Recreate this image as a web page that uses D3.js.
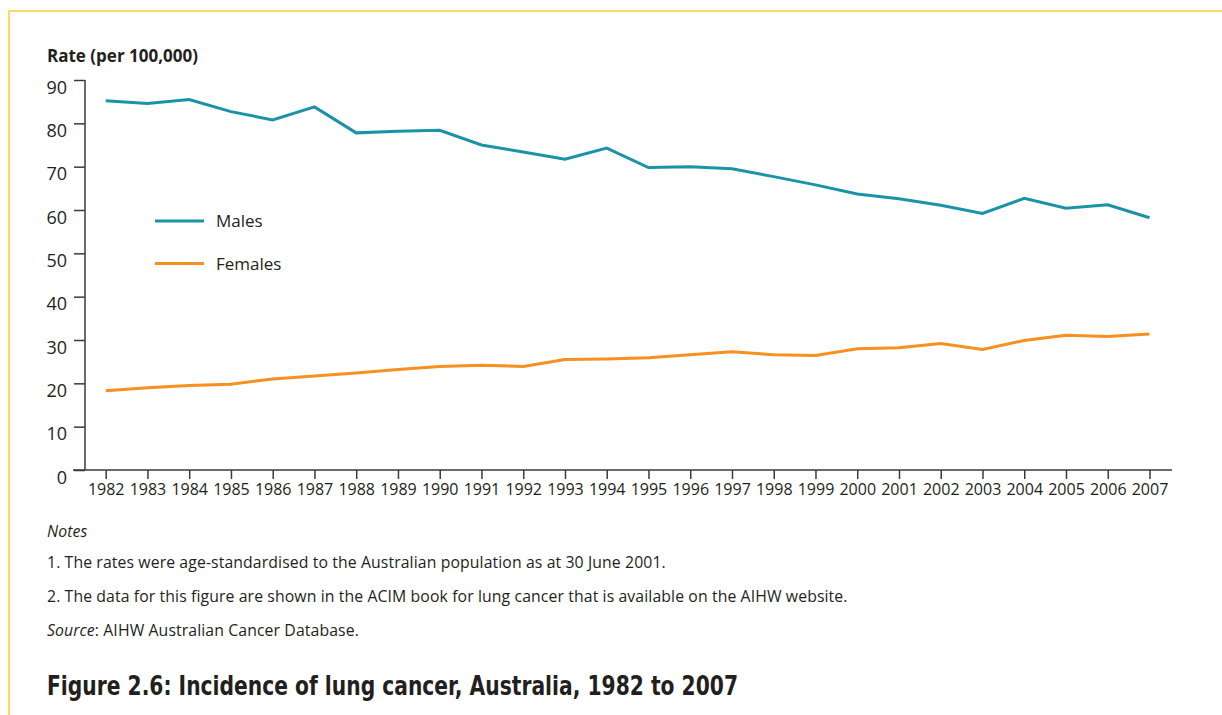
<!DOCTYPE html>
<html>
<head>
<meta charset="utf-8">
<script src="https://cdn.jsdelivr.net/npm/d3@7"></script>
<style>
  html, body { margin: 0; padding: 0; background: #fff; }
  svg { display: block; }
  text { fill: #231f20; }
</style>
</head>
<body>
<svg id="chart" width="1222" height="715"></svg>
<script>
// ---- data ----
const years = [1982,1983,1984,1985,1986,1987,1988,1989,1990,1991,1992,1993,1994,1995,1996,1997,1998,1999,2000,2001,2002,2003,2004,2005,2006,2007];
const males = [85.2,84.6,85.5,82.7,80.8,83.8,77.8,78.2,78.4,75.0,73.4,71.7,74.3,69.8,70.0,69.5,67.7,65.8,63.7,62.6,61.1,59.2,62.7,60.4,61.2,58.2];
const females = [18.3,19.0,19.5,19.8,21.0,21.7,22.4,23.2,23.9,24.2,23.9,25.5,25.6,25.9,26.6,27.3,26.6,26.4,28.0,28.2,29.2,27.8,29.9,31.1,30.8,31.4];
const yTicks = [0,10,20,30,40,50,60,70,80,90];
const seriesNames = ["Males","Females"];
const seriesColors = ["#1a93a8","#f7901e"];
const yTitle = "Rate (per 100,000)";
const notes = [
  {italic: "Notes", rest: ""},
  {italic: "", rest: "1. The rates were age-standardised to the Australian population as at 30 June 2001."},
  {italic: "", rest: "2. The data for this figure are shown in the ACIM book for lung cancer that is available on the AIHW website."},
  {italic: "Source", rest: ": AIHW Australian Cancer Database."}
];
const figTitle = "Figure 2.6: Incidence of lung cancer, Australia, 1982 to 2007";

// ---- layout ----
const svg = d3.select("#chart");
const FONT = "'Open Sans', 'Noto Sans', sans-serif";
const axisColor = "#3a3a3a";

// frame
svg.append("path")
  .attr("d", "M9,715 L9,11 L1222,11")
  .attr("fill", "none")
  .attr("stroke", "#ffd966")
  .attr("stroke-width", 2);

const x = d3.scaleLinear().domain([1982, 2007]).range([105.7, 1149.5]);
const y = d3.scaleLinear().domain([0, 90]).range([470, 80]);
const axisLeftX = 85;

// y axis
const yAxis = d3.axisLeft(y).tickValues(yTicks).tickSize(11).tickPadding(7).tickFormat(d3.format("d"));
const gy = svg.append("g").attr("transform", `translate(${axisLeftX},0)`).call(yAxis);
gy.select(".domain").remove();
gy.selectAll(".tick line").attr("stroke", axisColor).attr("stroke-width", 1.5);
gy.selectAll(".tick text")
  .attr("font-family", FONT).attr("font-size", 18).attr("fill", "#231f20")
  .attr("y", 7.5);
svg.append("line")
  .attr("x1", axisLeftX).attr("x2", axisLeftX)
  .attr("y1", y(90)).attr("y2", y(0))
  .attr("stroke", axisColor).attr("stroke-width", 1.5);

// x axis
const xAxis = d3.axisBottom(x).tickValues(years).tickSize(9).tickPadding(5).tickFormat(d3.format("d"));
const gx = svg.append("g").attr("transform", `translate(0,${y(0)})`).call(xAxis);
gx.select(".domain").remove();
gx.selectAll(".tick line").attr("stroke", axisColor).attr("stroke-width", 1.5);
gx.selectAll(".tick text")
  .attr("font-family", FONT).attr("font-size", 16).attr("fill", "#231f20");
svg.append("line")
  .attr("x1", axisLeftX - 12).attr("x2", 1172)
  .attr("y1", y(0)).attr("y2", y(0))
  .attr("stroke", axisColor).attr("stroke-width", 1.5);

// y title
svg.append("text")
  .attr("x", 47).attr("y", 62)
  .attr("font-family", FONT).attr("font-size", 17).attr("font-weight", 700)
  .text(yTitle);

// lines
const line = d3.line().x((d, i) => x(years[i])).y(d => y(d));
[males, females].forEach((s, k) => {
  svg.append("path")
    .datum(s)
    .attr("fill", "none")
    .attr("stroke", seriesColors[k])
    .attr("stroke-width", 3)
    .attr("stroke-linejoin", "miter")
    .attr("d", line);
});

// legend
const legY = [221, 263.5];
seriesNames.forEach((n, k) => {
  svg.append("line")
    .attr("x1", 155).attr("x2", 204)
    .attr("y1", legY[k]).attr("y2", legY[k])
    .attr("stroke", seriesColors[k]).attr("stroke-width", 3);
  svg.append("text")
    .attr("x", 216).attr("y", legY[k] + 6)
    .attr("font-family", FONT).attr("font-size", 17)
    .text(n);
});

// notes
const noteY = [537, 568, 602, 636];
notes.forEach((n, i) => {
  const t = svg.append("text")
    .attr("x", 47).attr("y", noteY[i])
    .attr("font-family", FONT).attr("font-size", 15.8)
    .attr("letter-spacing", 0.1);
  if (n.italic) t.append("tspan").attr("font-style", "italic").text(n.italic);
  if (n.rest) t.append("tspan").text(n.rest);
});

// figure title
svg.append("text")
  .attr("x", 47).attr("y", 695)
  .attr("font-family", "'Liberation Sans Narrow', 'DejaVu Sans Condensed', sans-serif")
  .attr("font-stretch", "condensed")
  .attr("font-size", 26).attr("font-weight", 700)
  .attr("fill", "#111")
  .attr("textLength", 691)
  .attr("lengthAdjust", "spacingAndGlyphs")
  .text(figTitle);
</script>
</body>
</html>
